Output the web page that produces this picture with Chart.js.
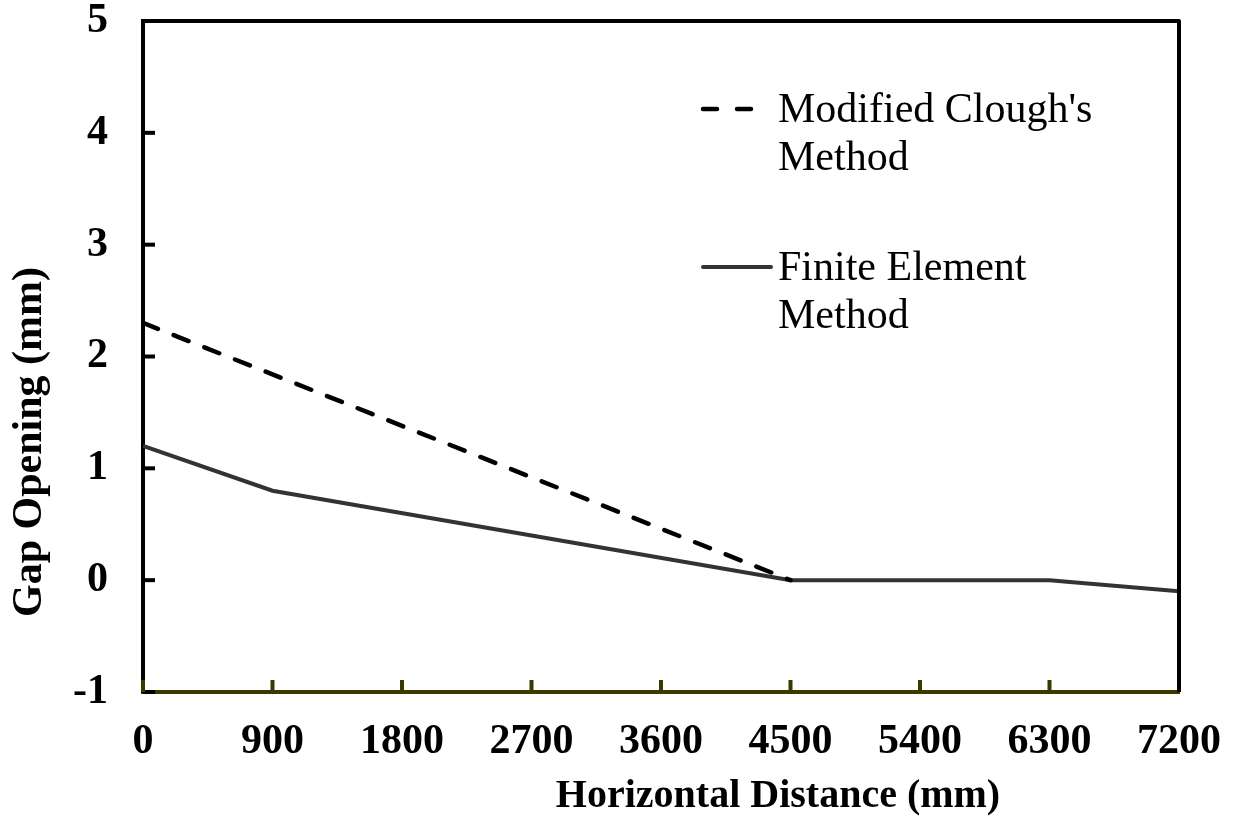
<!DOCTYPE html>
<html lang="en">
<head>
    <meta charset="UTF-8">
    <title>Gap Opening vs Horizontal Distance</title>
    <script src="https://cdn.jsdelivr.net/npm/chart.js"></script>
    <style>
        body { margin: 0; background: #fff; }
    </style>
</head>
<body>
    <canvas id="myChart" width="1241" height="825"></canvas>

    <script>
        // data
        const cloughDist = [0, 4500];
        const cloughGap = [2.3, 0];
        const femDist = [0, 900, 4500, 6300, 7200];
        const femGap = [1.2, 0.8, 0, 0, -0.1];

        const seriesNames = [["Modified Clough's", "Method"], ["Finite Element", "Method"]];
        const xTitle = "Horizontal Distance (mm)";
        const yTitle = "Gap Opening (mm)";

        const serif = "'Liberation Serif', 'Times New Roman', serif";
        const olive = "#3b3800";

        const toPoints = (xs, ys) => xs.map((x, i) => ({ x: x, y: ys[i] }));

        // frame, inward ticks, titles and legend
        const decor = {
            id: 'decor',
            afterDraw(chart) {
                const ctx = chart.ctx;
                const a = chart.chartArea;
                const xs = chart.scales.x, ys = chart.scales.y;
                ctx.save();
                ctx.lineCap = 'butt';

                // inward tick marks
                ctx.lineWidth = 4;
                ctx.strokeStyle = '#000';
                ys.ticks.forEach(t => {
                    const p = ys.getPixelForValue(t.value);
                    ctx.beginPath(); ctx.moveTo(a.left, p); ctx.lineTo(a.left + 12, p); ctx.stroke();
                });
                ctx.strokeStyle = olive;
                xs.ticks.forEach(t => {
                    const p = xs.getPixelForValue(t.value);
                    ctx.beginPath(); ctx.moveTo(p, a.bottom); ctx.lineTo(p, a.bottom - 12); ctx.stroke();
                });

                // top and right border
                ctx.strokeStyle = '#000';
                ctx.lineJoin = 'round';
                ctx.beginPath();
                ctx.moveTo(a.left, a.top);
                ctx.lineTo(a.right, a.top);
                ctx.lineTo(a.right, a.bottom);
                ctx.stroke();

                // axis titles
                ctx.fillStyle = '#000';
                ctx.font = "bold 40px " + serif;
                ctx.textAlign = 'center';
                ctx.textBaseline = 'middle';
                ctx.fillText(xTitle, 778, 797);
                ctx.save();
                ctx.translate(30, 442);
                ctx.rotate(-Math.PI / 2);
                ctx.font = "bold 42px " + serif;
                ctx.fillText(yTitle, 0, 0);
                ctx.restore();

                // legend
                ctx.font = "42px " + serif;
                ctx.textAlign = 'left';
                ctx.lineWidth = 4.5;
                ctx.lineCap = 'round';
                ctx.strokeStyle = '#000';
                ctx.setLineDash([14, 20]);
                ctx.beginPath(); ctx.moveTo(703, 109); ctx.lineTo(755, 109); ctx.stroke();
                ctx.setLineDash([]);
                ctx.lineWidth = 4;
                ctx.strokeStyle = '#333';
                ctx.beginPath(); ctx.moveTo(703, 267); ctx.lineTo(771, 267); ctx.stroke();
                ctx.fillText(seriesNames[0][0], 778, 111);
                ctx.fillText(seriesNames[0][1], 778, 159);
                ctx.fillText(seriesNames[1][0], 778, 269);
                ctx.fillText(seriesNames[1][1], 778, 317);
                ctx.restore();
            }
        };

        const ctx = document.getElementById('myChart').getContext('2d');
        new Chart(ctx, {
            type: 'line',
            data: {
                datasets: [
                    {
                        label: seriesNames[0].join(' '),
                        data: toPoints(cloughDist, cloughGap),
                        borderColor: '#000',
                        borderWidth: 4.5,
                        borderDash: [16, 17],
                        borderCapStyle: 'round',
                        pointRadius: 0,
                        fill: false
                    },
                    {
                        label: seriesNames[1].join(' '),
                        data: toPoints(femDist, femGap),
                        borderColor: '#333',
                        borderWidth: 4,
                        pointRadius: 0,
                        fill: false
                    }
                ]
            },
            options: {
                responsive: false,
                animation: false,
                devicePixelRatio: 1,
                layout: { padding: { top: 21, right: 62, left: 0, bottom: 0 } },
                plugins: {
                    legend: { display: false },
                    tooltip: { enabled: false }
                },
                scales: {
                    x: {
                        type: 'linear',
                        min: 0,
                        max: 7200,
                        afterFit: s => { s.height = 133; s.paddingLeft = 0; s.paddingRight = 0; },
                        ticks: {
                            stepSize: 900,
                            color: '#000',
                            padding: 25,
                            maxRotation: 0,
                            callback: v => String(v),
                            font: { family: serif, size: 42, weight: 'bold' }
                        },
                        grid: { drawOnChartArea: false, drawTicks: false },
                        border: { color: olive, width: 4 }
                    },
                    y: {
                        min: -1,
                        max: 5,
                        afterFit: s => { s.width = 143; s.paddingTop = 0; s.paddingBottom = 0; },
                        ticks: {
                            stepSize: 1,
                            color: '#000',
                            padding: 35,
                            callback: v => String(v),
                            font: { family: serif, size: 42, weight: 'bold' }
                        },
                        grid: { drawOnChartArea: false, drawTicks: false },
                        border: { color: '#000', width: 4 }
                    }
                }
            },
            plugins: [decor]
        });
    </script>
</body>
</html>
